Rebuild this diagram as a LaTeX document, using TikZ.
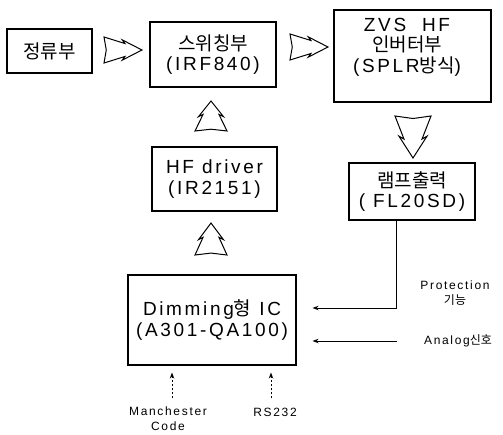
\documentclass[tikz,border=0pt]{standalone}
\usepackage{fontspec}
\setmainfont{Liberation Sans}[LetterSpace=14]
\newfontfamily\kr{Noto Sans CJK KR}
\usetikzlibrary{arrows.meta,calc}
\begin{document}
\begin{tikzpicture}[x=1pt,y=-1pt,
  box/.style={draw, line width=1.1pt, align=center, inner sep=0pt, font=\fontsize{19}{20.5}\selectfont},
  boxtext/.style={align=center, inner sep=0pt, font=\fontsize{19}{20.5}\selectfont},
  blk/.style={draw, line width=1pt, fill=white, line join=miter},
  arr/.style={line width=0.9pt, -{Stealth[length=6pt,width=4.5pt]}},
  darr/.style={line width=0.9pt, dash pattern=on 2pt off 2pt, -{Stealth[length=6pt,width=4.5pt]}},
  small/.style={font=\fontsize{12}{15.5}\selectfont, align=center, inner sep=0pt},
  pics/blockarrow/.style 2 args={code={
    \draw[blk] (-0.5*#1,-#2) -- (0.05*#1,-0.5*#2) -- (-0.02*#1,-0.78*#2) -- (0.5*#1,0)
      -- (-0.02*#1,0.78*#2) -- (0.05*#1,0.5*#2) -- (-0.5*#1,#2) -- (-0.44*#1,0) -- cycle;
  }}]
\useasboundingbox (0,0) rectangle (503,434);

% boxes
\node[box, minimum width=85, minimum height=44] (rect) at (49.5,51) {\kr 정류부};
\node[box, minimum width=126, minimum height=65] (sw) at (213,54.5) {{\kr 스위칭부}\\(IRF840)};
\node[box, minimum width=157, minimum height=92] (zvs) at (412.5,56) {};
\node[boxtext] (zvstext) at (407,47) {ZVS\ \ HF\\{\kr 인버터부}\\(SPLR{\kr 방식})};
\node[box, minimum width=126, minimum height=57] (lamp) at (412,191.5) {{\kr 램프출력}\\( FL20SD)};
\node[box, minimum width=125, minimum height=64] (hfd) at (214.5,179) {HF driver\\(IR2151)};
\node[box, minimum width=168, minimum height=90] (dim) at (212,320) {Dimming{\kr 형} IC\\(A301-QA100)};

% hollow block arrows
\pic at (123,50) {blockarrow={38}{13}};
\pic at (309,47) {blockarrow={38}{13}};
\pic[rotate=-90] at (413,137) {blockarrow={42}{18}};
\pic[rotate=90] at (211,116) {blockarrow={30}{16}};
\pic[rotate=90] at (211,239) {blockarrow={32}{16}};

% labels
\node[small] (prot) at (455,293) {Protection\\{\kr 기능}};
\node[small] (analog) at (458,341) {Analog{\kr 신호}};
\node[small] (man) at (168,418.5) {Manchester\\Code};
\node[small] (rs) at (275,412) {RS232};

% connectors
\coordinate (pout) at ($(lamp.south west)!0.38!(lamp.south east)$);
\draw[arr, shorten >=16pt] (pout) |- (dim.east |- 0,308);
\coordinate (asrc) at (397,341);
\draw[arr, shorten >=16pt] (asrc) -- (asrc -| dim.east);
\coordinate (mc) at (172,398);
\draw[darr, shorten >=7pt] (mc) -- (mc |- dim.south);
\coordinate (rc) at (271,398);
\draw[darr, shorten >=7pt] (rc) -- (rc |- dim.south);
\end{tikzpicture}
\end{document}
